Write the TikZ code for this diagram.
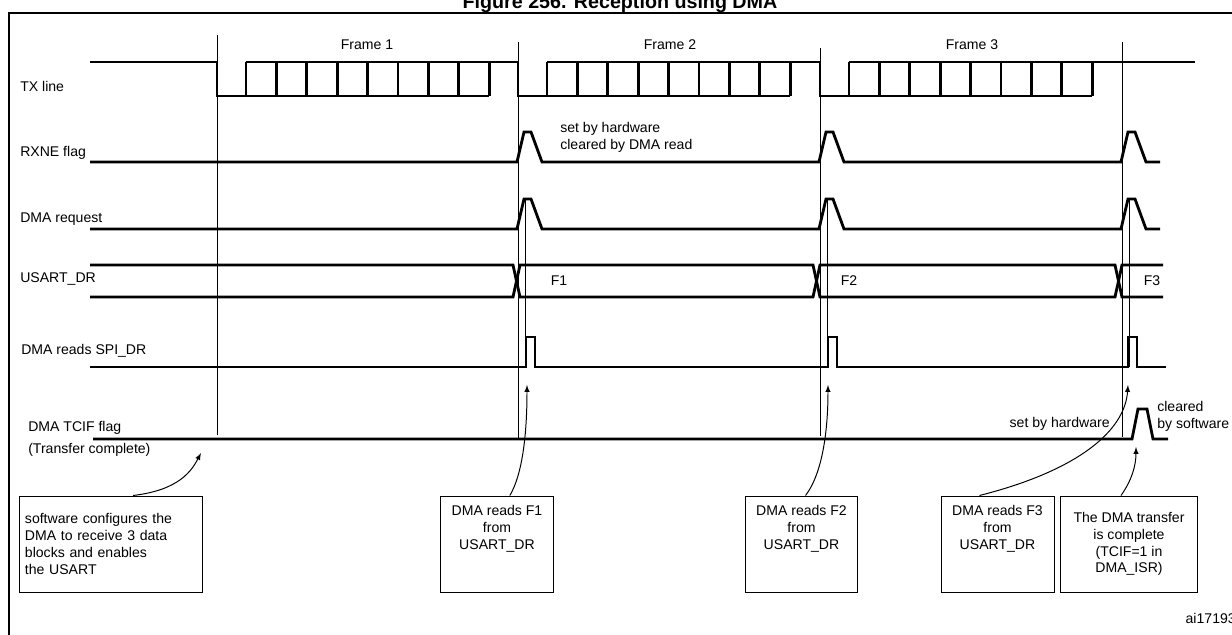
\documentclass[tikz,border=0pt]{standalone}
\usepackage{fontspec}
\setmainfont{Liberation Sans}
\newcommand*{\Bump}[2]{% #1 = x of rise, #2 = base line
  -- (#1,#2) -- ++(7,-30) -- ++(7,0) -- ++(11,30)}
\newcommand*{\Strobe}[2]{% #1 = x of rise, #2 = base line
  -- (#1,#2) -- ++(0,-30) -- ++(9,0) -- ++(0,30)}
\newcommand*{\TxFrame}[1]{% #1 = x of start bit
  \draw [sig] (#1,62) -- (#1,96) -- (#1+272,96);
  \draw [sig] (#1+29,62) -- (#1+302,62);
  \foreach \k in {0,...,8} {
    \draw [sig] (#1+29+\k*30.4,62) -- (#1+29+\k*30.4,96);
  }%
}
\tikzset{
  sig/.style={line width=2pt, line join=miter},
  guide/.style={line width=0.6pt},
  lbl/.style={font=\fontsize{10}{12}\selectfont, inner sep=0pt},
  note/.style={draw, line width=0.7pt, font=\fontsize{10}{12}\selectfont,
    align=center, minimum height=2.4cm, inner sep=1pt},
  conn/.style={line width=0.7pt, -latex}
}
\begin{document}
\begin{tikzpicture}[x=0.025cm, y=-0.025cm]
  \useasboundingbox (0,0) rectangle (1232,634);
  \node [font=\fontsize{14}{16}\selectfont\bfseries, anchor=base] (title) at (620,8) {Figure 256. Reception using DMA};
  \draw [line width=0.8pt] (9,13) rectangle (1250,650);

  % guide lines
  \draw [guide] (217,35) -- (217,435);
  \draw [guide] (518,42) -- (518,440);
  \draw [guide] (820,48) -- (820,436);
  \draw [guide] (1122,42) -- (1122,437);
  \draw [guide] (525,200) -- (525,367);
  \draw [guide] (827,200) -- (827,367);
  \draw [guide] (1129,200) -- (1129,367);

  \node [lbl] (fr1) at (367,45) {Frame 1};
  \node [lbl] (fr2) at (670,45) {Frame 2};
  \node [lbl] (fr3) at (972,45) {Frame 3};

  % signal names
  \node [lbl, anchor=base west] (ntx) at (20,91) {TX line};
  \node [lbl, anchor=base west] (nrx) at (20,156) {RXNE flag};
  \node [lbl, anchor=base west] (nreq) at (20,222) {DMA request};
  \node [lbl, anchor=base west] (ndr) at (20,282) {USART\_DR};
  \node [lbl, anchor=base west] (nrd) at (21,354) {DMA reads SPI\_DR};
  \node [lbl, anchor=base west] (ntc) at (28,431) {DMA TCIF flag};
  \node [lbl, anchor=base west] (ntc2) at (28,453) {(Transfer complete)};

  % TX line
  \draw [sig] (90,62) -- (217,62);
  \TxFrame{217}
  \TxFrame{518}
  \TxFrame{820}
  \draw [sig] (1122,62) -- (1195,62);

  % RXNE and DMA request
  \draw [sig] (90,162) \Bump{517}{162} \Bump{819}{162} \Bump{1121}{162} -- (1160,162);
  \draw [sig] (90,229) \Bump{517}{229} \Bump{819}{229} \Bump{1121}{229} -- (1160,229);
  \node [lbl, anchor=base west, align=left] (nset) at (560,149) {set by hardware\\cleared by DMA read};

  % USART_DR bus
  \draw [sig] (90,265) -- (513,265) -- (520,297) -- (813,297) -- (820,265) -- (1115,265) -- (1122,297) -- (1163,297);
  \draw [sig] (90,297) -- (513,297) -- (520,265) -- (813,265) -- (820,297) -- (1115,297) -- (1122,265) -- (1163,265);
  \node [lbl] (f1) at (559,281) {F1};
  \node [lbl] (f2) at (849,281) {F2};
  \node [lbl] (f3) at (1152,281) {F3};

  % DMA reads
  \draw [sig] (90,367) \Strobe{526}{367} \Strobe{828}{367} \Strobe{1128}{367} -- (1166,367);

  % TCIF
  \draw [sig] (93,439) -- (1132,439) -- (1138,409) -- (1147,409) -- (1153,439) -- (1168,439);
  \node [lbl, anchor=base east] (nhw) at (1110,427) {set by hardware};
  \node [lbl, anchor=base west, align=left] (nsw) at (1157,428) {cleared\\by software};

  % notes
  \node [note, align=left, minimum width=4.55cm, text width=4.3cm] (b0) at (111,544)
    {software configures the\\DMA to receive 3 data\\blocks and enables\\the USART};
  \node [note, minimum width=2.8cm] (b1) at (497,544) {DMA reads F1\\from\\USART\_DR\\[12pt]};
  \node [note, minimum width=2.8cm] (b2) at (801.5,544) {DMA reads F2\\from\\USART\_DR\\[12pt]};
  \node [note, minimum width=2.825cm] (b3) at (997.5,544) {DMA reads F3\\from\\USART\_DR\\[12pt]};
  \node [note, minimum width=3.4cm] (b4) at (1129,544) {The DMA transfer\\is complete\\(TCIF=1 in\\DMA\_ISR)};

  \coordinate (t0) at (201,453);
  \coordinate (t1) at (527,385);
  \coordinate (t2) at (828,385);
  \coordinate (t3) at (1128,385);
  \coordinate (t4) at (1136,447);
  \draw [conn] ([xshift=0.55cm]b0.north) .. controls (180,490) and (192,470) .. (t0);
  \draw [conn] ([xshift=0.32cm]b1.north) .. controls (525,470) and (527,420) .. (t1);
  \draw [conn] ([xshift=0.1cm]b2.north) .. controls (825,470) and (828,420) .. (t2);
  \draw [conn] ([xshift=-0.45cm]b3.north) .. controls (1080,470) and (1125,430) .. (t3);
  \draw [conn] ([xshift=-0.2cm]b4.north) .. controls (1132,480) and (1136,465) .. (t4);

  \node [lbl, anchor=base east] (code) at (1236,623) {ai17193};
\end{tikzpicture}
\end{document}
